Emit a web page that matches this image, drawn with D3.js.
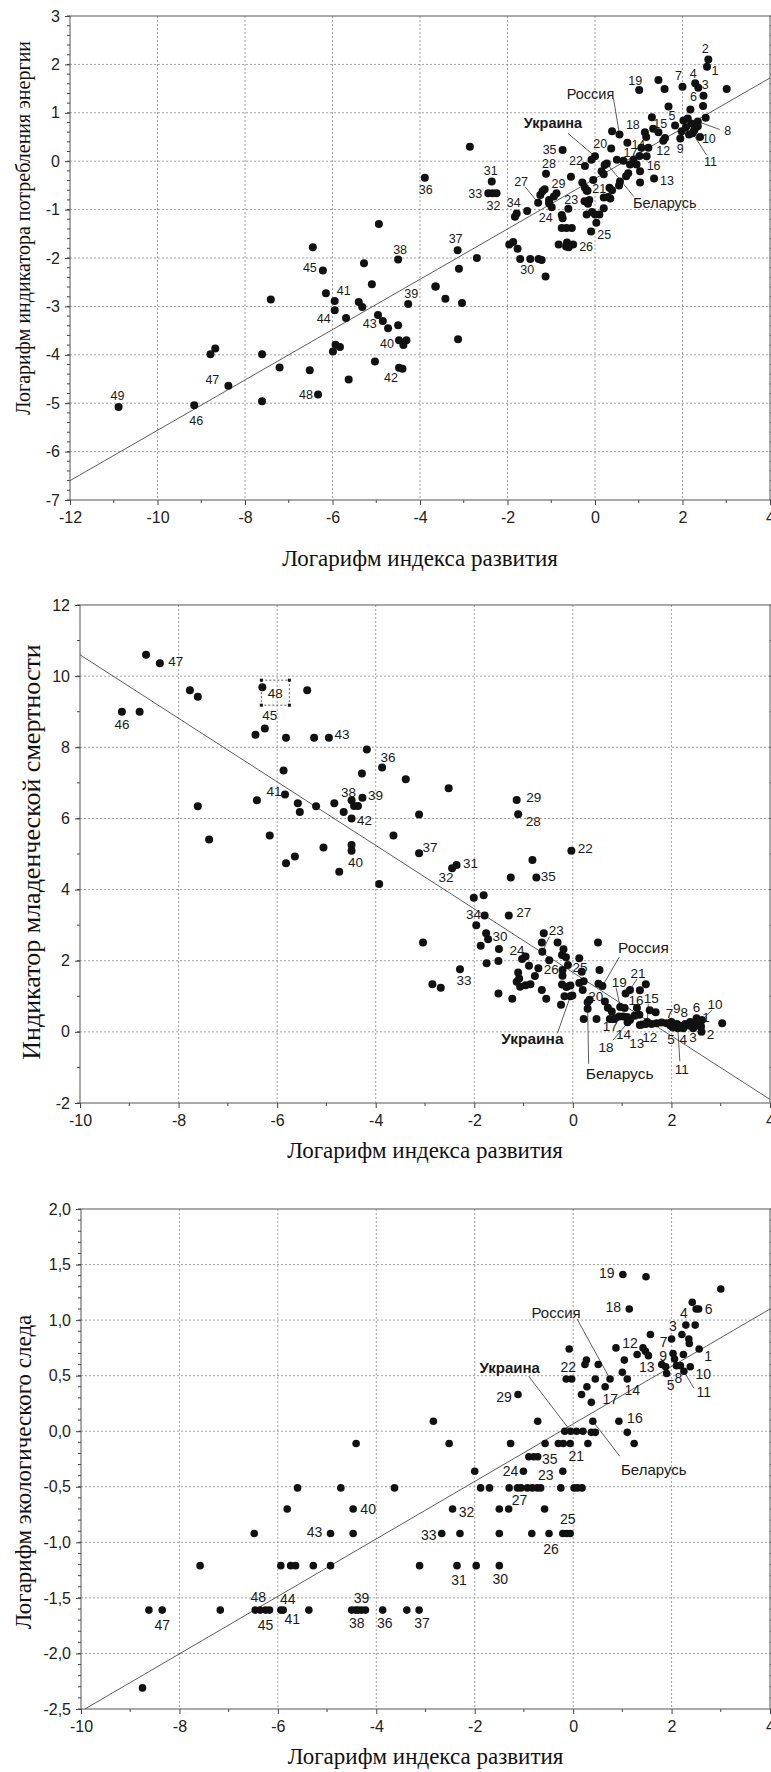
<!DOCTYPE html>
<html>
<head>
<meta charset="utf-8">
<script src="https://cdn.jsdelivr.net/npm/d3@7"></script>
<style>
  body { margin: 0; background: #fff; }
</style>
</head>
<body>
<script>
const svgWidth = 771;
const svgHeight = 1772;

const sans = "'Liberation Sans', Arial, sans-serif";
const serif = "'Liberation Serif', 'Times New Roman', serif";
const xTitle = 'Логарифм индекса развития';

// ---------- panel 1: energy consumption ----------
const energyXTicks = [-12, -10, -8, -6, -4, -2, 0, 2, 4];
const energyYTicks = [-7, -6, -5, -4, -3, -2, -1, 0, 1, 2, 3];
const energyFit = [[-12, -6.6], [4, 1.72]];
const energyPoints = [
  [2.56, 1.95, '1'], [2.59, 2.10, '2'], [2.36, 1.52, '3'], [2.29, 1.61, '4'], [1.83, 0.74, '5'],
  [2.48, 1.35, '6'], [2.00, 1.54, '7'], [2.35, 0.82, '8'], [1.95, 0.47, '9'], [2.26, 0.63, '10'],
  [2.23, 0.58, '11'], [1.56, 0.42, '12'], [1.35, -0.36, '13'], [1.22, 0.28, '14'], [1.33, 0.67, '15'],
  [1.18, 0.10, '16'], [0.88, 0.03, '17'], [1.14, 0.60, '18'], [1.01, 1.47, '19'], [0.37, 0.26, '20'],
  [-0.04, -0.39, '21'], [-0.23, -0.10, '22'], [-0.61, -0.98, '23'], [-0.99, -0.95, '24'], [0.03, -1.27, '25'],
  [-0.50, -1.72, '26'], [-1.30, -0.86, '27'], [-1.12, -0.26, '28'], [-0.88, -0.66, '29'], [-1.71, -2.02, '30'],
  [-2.36, -0.42, '31'], [-2.25, -0.66, '32'], [-2.44, -0.66, '33'], [-1.79, -1.08, '34'], [-0.74, 0.23, '35'],
  [-3.89, -0.34, '36'], [-3.14, -1.84, '37'], [-4.50, -2.03, '38'], [-4.27, -2.95, '39'], [-4.48, -3.70, '40'],
  [-5.95, -2.89, '41'], [-4.48, -4.27, '42'], [-4.85, -3.30, '43'], [-5.95, -3.08, '44'], [-6.22, -2.26, '45'],
  [-9.16, -5.04, '46'], [-8.38, -4.64, '47'], [-6.33, -4.82, '48'], [-10.89, -5.08, '49'],
  [0.56, 0.55, 'Россия'], [0.00, 0.10, 'Украина'], [0.27, -0.05, 'Беларусь'],
  [3.01, 1.49, ''], [1.45, 1.68, ''], [1.59, 1.49, ''], [1.68, 1.13, ''], [2.47, 1.14, ''], [2.18, 1.07, ''],
  [2.02, 0.84, ''], [2.12, 0.88, ''], [2.20, 0.78, ''], [2.08, 0.70, ''], [2.35, 0.72, ''], [2.53, 0.90, ''],
  [2.15, 0.55, ''], [2.40, 0.50, ''], [1.98, 0.62, ''], [2.28, 0.66, ''], [1.30, 0.91, ''], [1.17, 0.50, ''],
  [1.45, 0.60, ''], [1.60, 0.48, ''], [1.06, 0.28, ''], [0.74, 0.38, ''], [0.39, 0.62, ''], [1.02, 0.11, ''],
  [0.95, -0.07, ''], [1.03, -0.21, ''], [0.80, -0.07, ''], [0.71, -0.31, ''], [1.03, -0.44, ''], [0.65, 0.01, ''],
  [0.50, 0.03, ''], [0.76, -0.25, ''], [0.55, -0.50, ''], [0.57, -0.42, ''], [0.22, -0.08, ''], [0.15, -0.21, ''],
  [-0.08, 0.03, ''], [-0.55, -0.32, ''], [-0.29, -0.44, ''], [0.20, -0.27, ''], [-0.23, -0.55, ''], [-0.17, -0.61, ''],
  [0.33, -0.55, ''], [0.39, -0.60, ''], [0.35, -0.77, ''], [-0.07, -1.05, ''], [0.10, -1.10, ''], [-2.86, 0.30, ''],
  [-2.34, -0.66, ''], [-0.94, -0.73, ''], [-0.19, -0.61, ''], [-1.20, -0.62, ''], [-1.25, -0.70, ''], [-1.15, -0.58, ''],
  [-1.05, -0.80, ''], [-1.05, -0.87, ''], [-1.83, -1.15, ''], [-1.55, -1.03, ''], [-0.74, -1.18, ''], [-0.76, -1.11, ''],
  [-0.24, -0.83, ''], [-0.13, -0.80, ''], [-0.16, -0.88, ''], [-0.19, -1.10, ''], [0.00, -1.10, ''], [0.20, -0.75, ''],
  [0.30, -0.74, ''], [0.20, -0.97, ''], [-0.76, -1.38, ''], [-0.65, -1.38, ''], [-0.53, -1.38, ''], [-0.09, -1.45, ''],
  [-0.83, -1.72, ''], [-0.64, -1.68, ''], [-0.60, -1.78, ''], [-0.66, -1.76, ''], [-1.96, -1.72, ''], [-1.87, -1.67, ''],
  [-1.77, -1.81, ''], [-1.48, -2.02, ''], [-1.29, -2.02, ''], [-1.22, -2.04, ''], [-1.13, -2.38, ''], [-3.11, -2.22, ''],
  [-2.70, -2.00, ''], [-3.64, -2.59, ''], [-4.94, -1.30, ''], [-6.45, -1.78, ''], [-5.28, -2.11, ''], [-5.10, -2.54, ''],
  [-3.65, -2.59, ''], [-7.41, -2.86, ''], [-6.15, -2.73, ''], [-3.42, -2.84, ''], [-3.04, -2.93, ''], [-5.40, -2.91, ''],
  [-5.32, -3.01, ''], [-4.96, -3.18, ''], [-5.69, -3.24, ''], [-4.73, -3.45, ''], [-4.50, -3.39, ''], [-3.13, -3.68, ''],
  [-4.31, -3.70, ''], [-4.38, -3.80, ''], [-5.93, -3.79, ''], [-5.83, -3.84, ''], [-5.99, -3.93, ''], [-7.61, -3.99, ''],
  [-8.79, -3.99, ''], [-8.68, -3.87, ''], [-5.03, -4.14, ''], [-7.21, -4.26, ''], [-4.40, -4.29, ''], [-6.52, -4.32, ''],
  [-5.63, -4.51, ''], [-7.61, -4.96, '']
];

// ---------- panel 2: infant mortality ----------
const mortalityXTicks = [-10, -8, -6, -4, -2, 0, 2, 4];
const mortalityYTicks = [-2, 0, 2, 4, 6, 8, 10, 12];
const mortalityFit = [[-10, 10.6], [4, -1.9]];
const mortalityPoints = [
  [-9.15, 9.00, '46'], [-8.38, 10.36, '47'], [-6.30, 9.69, '48'], [-6.25, 8.53, '45'], [-4.95, 8.27, '43'],
  [-3.87, 7.43, '36'], [-5.84, 6.67, '41'], [-4.49, 6.51, '38'], [-4.27, 6.58, '39'], [-4.49, 6.00, '42'],
  [-4.49, 5.09, '40'], [-1.14, 6.52, '29'], [-1.11, 6.12, '28'], [-0.03, 5.09, '22'], [-3.12, 5.02, '37'],
  [-2.36, 4.69, '31'], [-2.45, 4.60, '32'], [-0.74, 4.34, '35'], [-1.79, 3.27, '34'], [-1.30, 3.27, '27'],
  [-1.72, 2.60, '30'], [-2.29, 1.76, '33'], [-0.62, 2.25, '23'], [-1.03, 2.05, '24'], [-0.70, 1.79, '26'],
  [-0.10, 1.88, '25'], [0.30, 0.83, '20'], [1.16, 1.18, '21'], [0.96, 0.70, '19'], [1.16, 0.33, '18'],
  [0.94, 0.43, '17'], [1.30, 0.67, '16'], [1.51, 0.28, '15'], [1.11, 0.27, '14'], [1.36, 0.19, '13'],
  [1.60, 0.22, '12'], [2.13, 0.10, '11'], [2.62, 0.33, '10'], [2.11, 0.22, '9'], [2.28, 0.22, '8'],
  [1.90, 0.24, '7'], [2.51, 0.38, '6'], [2.03, 0.12, '5'], [2.24, 0.10, '4'], [2.44, 0.10, '3'],
  [2.61, 0.00, '2'], [2.54, 0.29, '1'],
  [0.60, 1.29, 'Россия'], [-0.05, 1.00, 'Украина'], [0.30, 0.65, 'Беларусь'],
  [-8.66, 10.6, ''], [-7.77, 9.60, ''], [-7.61, 9.42, ''], [-8.79, 9.00, ''], [-5.39, 9.60, ''], [-6.44, 8.35, ''],
  [-5.82, 8.27, ''], [-5.25, 8.27, ''], [-4.18, 7.94, ''], [-5.87, 7.35, ''], [-4.28, 7.26, ''], [-6.41, 6.51, ''],
  [-7.61, 6.34, ''], [-5.58, 6.43, ''], [-5.54, 6.18, ''], [-5.21, 6.34, ''], [-4.84, 6.43, ''], [-4.65, 6.18, ''],
  [-4.44, 6.35, ''], [-4.36, 6.35, ''], [-3.64, 5.52, ''], [-6.15, 5.52, ''], [-7.38, 5.41, ''], [-5.06, 5.18, ''],
  [-4.49, 5.25, ''], [-5.64, 4.93, ''], [-5.82, 4.74, ''], [-4.74, 4.50, ''], [-3.93, 4.16, ''],
  [-3.39, 7.10, ''], [-2.52, 6.85, ''], [-3.12, 6.11, ''], [-0.82, 4.83, ''], [-1.26, 4.34, ''], [-2.01, 3.77, ''],
  [-1.81, 3.84, ''], [-1.96, 3.00, ''], [-3.04, 2.51, ''], [-1.76, 2.77, ''], [-1.87, 2.42, ''], [-1.50, 2.33, ''],
  [-1.51, 1.99, ''], [-1.75, 1.93, ''], [-2.85, 1.34, ''], [-2.68, 1.24, ''], [-1.51, 1.08, ''], [-1.23, 0.93, ''],
  [-0.59, 2.77, ''], [-0.63, 2.51, ''], [-0.31, 2.51, ''], [-0.22, 2.16, ''], [-0.19, 2.32, ''], [-0.96, 2.12, ''],
  [-0.89, 1.86, ''], [-0.77, 1.57, ''], [-1.11, 1.67, ''], [-1.09, 1.50, ''], [-1.14, 1.41, ''], [-1.07, 1.27, ''],
  [-0.96, 1.31, ''], [-0.86, 1.34, ''], [-0.48, 2.01, ''], [-0.63, 1.18, ''], [-0.54, 0.93, ''], [-0.24, 0.76, ''],
  [-0.21, 1.74, ''], [-0.21, 1.58, ''], [-0.22, 1.33, ''], [-0.14, 2.10, ''], [-0.17, 1.00, ''], [-0.01, 1.02, ''],
  [-0.13, 1.26, ''], [-0.05, 1.30, ''], [0.13, 2.07, ''], [0.18, 1.69, ''], [0.13, 1.37, ''], [0.22, 1.42, ''],
  [0.20, 1.18, ''], [0.51, 2.51, ''], [0.54, 1.74, ''], [0.52, 1.35, ''], [0.22, 0.36, ''], [0.48, 0.36, ''],
  [0.34, 0.90, ''], [0.65, 0.85, ''], [0.71, 0.68, ''], [0.79, 0.57, ''], [0.75, 0.36, ''], [0.86, 0.38, ''],
  [1.05, 0.67, ''], [1.07, 1.08, ''], [1.48, 1.34, ''], [1.36, 1.17, ''], [1.02, 0.43, ''], [1.10, 0.42, ''],
  [1.25, 0.45, ''], [1.35, 0.48, ''], [1.68, 0.55, ''], [1.56, 0.61, ''], [1.40, 0.21, ''], [1.48, 0.22, ''],
  [1.70, 0.24, ''], [1.80, 0.26, ''], [1.98, 0.18, ''], [2.17, 0.17, ''], [2.35, 0.18, ''], [2.45, 0.20, ''],
  [2.55, 0.17, ''], [2.38, 0.28, ''], [2.00, 0.28, ''], [2.60, 0.15, ''], [3.03, 0.24, '']
];

// ---------- panel 3: ecological footprint ----------
const footprintXTicks = [-10, -8, -6, -4, -2, 0, 2, 4];
const footprintYTicks = [-2.5, -2, -1.5, -1, -0.5, 0, 0.5, 1, 1.5, 2];
const footprintFit = [[-9.92, -2.5], [4, 1.1]];
const footprintPoints = [
  [1.01, 1.41, '19'], [1.14, 1.10, '18'], [2.55, 1.10, '6'], [2.29, 0.955, '4'], [2.21, 0.87, '3'],
  [2.00, 0.83, '7'], [1.42, 0.75, '12'], [2.03, 0.70, '9'], [2.56, 0.74, '1'], [1.80, 0.60, '13'],
  [2.38, 0.58, '10'], [1.90, 0.52, '5'], [2.10, 0.59, '8'], [2.25, 0.54, '11'], [1.10, 0.47, '14'],
  [0.37, 0.26, '17'], [0.93, 0.09, '16'], [-0.14, 0.47, '22'], [-1.12, 0.33, '29'], [-0.72, -0.23, '35'],
  [-0.06, -0.11, '21'], [-1.01, -0.36, '24'], [-0.21, -0.36, '23'], [-1.13, -0.51, '27'], [-2.45, -0.70, '32'],
  [-2.67, -0.92, '33'], [-0.13, -0.92, '25'], [-0.49, -0.92, '26'], [-2.36, -1.21, '31'], [-1.50, -1.21, '30'],
  [-3.13, -1.61, '37'], [-3.87, -1.61, '36'], [-4.50, -1.61, '38'], [-4.30, -1.61, '39'], [-4.47, -0.70, '40'],
  [-4.93, -0.92, '43'], [-5.94, -1.61, '44'], [-5.89, -1.61, '41'], [-6.46, -1.61, '48'], [-6.25, -1.61, '45'],
  [-8.35, -1.61, '47'],
  [0.75, 0.47, 'Россия'], [-0.05, 0.00, 'Украина'], [0.40, 0.09, 'Беларусь'],
  [-8.75, -2.31, ''], [-8.62, -1.61, ''], [-7.58, -1.21, ''], [-7.17, -1.61, ''], [-6.36, -1.61, ''], [-6.17, -1.61, ''],
  [-6.48, -0.92, ''], [-5.94, -1.21, ''], [-5.74, -1.21, ''], [-5.64, -1.21, ''], [-5.81, -0.70, ''], [-5.60, -0.51, ''],
  [-5.37, -1.61, ''], [-5.28, -1.21, ''], [-4.93, -1.21, ''], [-4.72, -0.51, ''], [-4.47, -0.92, ''], [-4.41, -0.11, ''],
  [-4.42, -1.61, ''], [-4.37, -1.61, ''], [-4.22, -1.61, ''], [-3.63, -0.51, ''], [-3.38, -1.61, ''], [-3.12, -1.21, ''],
  [-2.84, 0.09, ''], [-2.52, -0.11, ''], [-2.30, -0.92, ''], [-2.00, -0.36, ''], [-1.97, -1.21, ''], [-1.88, -0.51, ''],
  [-1.70, -0.51, ''], [-1.50, -0.70, ''], [-1.31, -0.70, ''], [-1.50, -0.92, ''], [-1.27, -0.11, ''], [-1.30, -0.51, ''],
  [-1.06, -0.51, ''], [-0.93, -0.51, ''], [-0.83, -0.51, ''], [-0.73, -0.51, ''], [-0.66, -0.51, ''], [-0.25, -0.51, ''],
  [0.02, -0.51, ''], [0.09, -0.51, ''], [0.18, -0.51, ''], [-0.58, -0.70, ''], [-0.84, -0.92, ''], [-0.21, -0.92, ''],
  [-0.06, -0.92, ''], [-0.90, -0.23, ''], [-0.80, -0.23, ''], [-0.72, 0.09, ''], [-0.57, -0.11, ''], [-0.30, -0.11, ''],
  [-0.20, -0.11, ''], [0.30, -0.11, ''], [0.07, 0.00, ''], [0.20, 0.00, ''], [-0.17, 0.00, ''], [0.45, -0.01, ''],
  [0.37, -0.01, ''], [1.10, -0.01, ''], [1.24, -0.11, ''], [0.17, 0.33, ''], [0.28, 0.40, ''], [0.65, 0.40, ''],
  [0.45, 0.47, ''], [-0.03, 0.47, ''], [0.27, 0.64, ''], [0.24, 0.60, ''], [0.51, 0.60, ''], [-0.08, 0.74, ''],
  [0.87, 0.75, ''], [1.47, 0.72, ''], [1.30, 0.69, ''], [1.53, 0.68, ''], [1.04, 0.64, ''], [1.00, 0.53, ''],
  [1.57, 0.87, ''], [1.48, 1.39, ''], [3.00, 1.28, ''], [2.42, 1.16, ''], [2.50, 1.10, ''], [2.48, 0.955, ''],
  [2.35, 0.83, ''], [2.36, 0.79, ''], [2.06, 0.65, ''], [2.24, 0.69, ''], [1.88, 0.58, ''], [2.18, 0.59, '']
];

// label placement in px relative to the dot: [dx, dy] or [dx, dy, leaderX, leaderY]
const energyLabelPos = {
  '1': [8, 4], '2': [-3, -11], '3': [7, -3], '4': [-2, -10], '5': [-3, -10], '6': [-10, 1], '7': [-4, -11],
  '8': [30, 9, 22, 8], '9': [0, 10], '10': [15, 8], '11': [18, 28, 14, 22], '12': [0, 10], '13': [13, 2],
  '14': [-10, -3], '15': [7, -5], '16': [7, 9], '17': [-3, -7], '18': [-12, -8], '19': [-4, -9], '20': [-11, -5],
  '21': [6, 9], '22': [-9, -5], '23': [3, -9], '24': [-6, 10], '25': [8, 12], '26': [13, 2], '27': [-17, -21, -13, -16],
  '28': [3, -10], '29': [2, -10], '30': [7, 11], '31': [-1, -11], '32': [-3, 12], '33': [-13, 0], '34': [-3, -11],
  '35': [-13, 0], '36': [1, 12], '37': [-2, -12], '38': [2, -10], '39': [3, -10], '40': [-12, 3], '41': [9, -10],
  '42': [-8, 10], '43': [-13, 3], '44': [-11, 8], '45': [-13, -3], '46': [2, 15], '47': [-16, -6], '48': [-12, 0],
  '49': [-1, -11], 'Россия': [-29, -41, -6, -36], 'Украина': [-42, -33, -27, -23], 'Беларусь': [58, 39, 27, 33]
};
const mortalityLabelPos = {
  '46': [0, 13], '47': [16, -2], '48': [13, 6], '45': [5, -13], '43': [13, -3], '36': [6, -10], '41': [-11, -3],
  '38': [-3, -8], '39': [13, -3], '42': [13, 2], '40': [4, 11], '29': [17, -3], '28': [15, 7], '22': [14, -3],
  '37': [11, -6], '31': [14, -2], '32': [-6, 9], '35': [12, -1], '27': [15, -3], '34': [-11, -1], '30': [12, -3],
  '33': [4, 11], '23': [14, -22, 7, -15], '24': [-5, -9], '26': [13, 1], '25': [12, 2], '20': [8, -6],
  '1': [8, -4], '2': [9, 2], '3': [0, 9], '4': [0, 11], '5': [-2, 12], '6': [0, -11], '7': [3, -10], '8': [-1, -12],
  '9': [0, -16], '10': [13, -16, 10, -10], '11': [4, 41, 2, 33], '12': [-2, 13], '13': [-3, 18], '14': [-4, 12],
  '15': [4, -24, 1, -18], '16': [-1, -8], '17': [-9, 10], '18': [-24, 27, -17, 20], '19': [-1, -25, -4, -19],
  '21': [8, -17, 7, -11], 'Россия': [41, -38, 17, -29], 'Украина': [-38, 42, -13, 37], 'Беларусь': [32, 65, 1, 55]
};
const footprintLabelPos = {
  '19': [-16, -1], '18': [-16, -2], '6': [10, 0], '4': [-2, -12], '3': [-9, -8], '7': [-8, 3], '12': [-13, -5],
  '9': [-10, 3], '1': [9, 7], '13': [-15, 3], '10': [13, 7], '5': [4, 12], '8': [2, 12], '11': [20, 21, 10, 17],
  '14': [5, 11], '17': [19, -3], '16': [16, -3], '22': [2, -12], '29': [-14, 3], '35': [12, 2], '21': [6, 13],
  '24': [-13, 0], '23': [-17, 4], '27': [2, 12], '32': [14, 3], '33': [-13, 2], '25': [1, -14], '26': [2, 16],
  '31': [2, 14], '30': [1, 13], '37': [3, 13], '36': [2, 13], '38': [5, 13], '39': [0, -12], '44': [7, -11],
  '41': [9, 9], '48': [3, -13], '45': [0, 15], '43': [-16, -1], '40': [15, 0], '47': [0, 15],
  'Россия': [-54, -66, -33, -60], 'Украина': [-61, -63, -42, -55], 'Беларусь': [61, 49, 27, 35]
};

const svg = d3.select('body')
              .append('svg')
              .attr('width', svgWidth)
              .attr('height', svgHeight);

const panels = [
  { points: energyPoints, labelPos: energyLabelPos, xTicks: energyXTicks, yTicks: energyYTicks, fit: energyFit,
    left: 70, right: 770, top: 16, bottom: 500, yMinor: 0.2, fmt: d => String(d),
    yTitle: 'Логарифм индикатора потребления энергии', yTitleSize: 20, yTitleX: 23, yTitleY: 228,
    xTitleY: 566, numSize: 12.5, nameSize: 14.5, r: 4 },
  { points: mortalityPoints, labelPos: mortalityLabelPos, xTicks: mortalityXTicks, yTicks: mortalityYTicks, fit: mortalityFit,
    left: 80, right: 770, top: 605, bottom: 1103, yMinor: 1, fmt: d => String(d),
    yTitle: 'Индикатор младенческой смертности', yTitleSize: 26, yTitleX: 31, yTitleY: 852,
    xTitleY: 1158, numSize: 13.5, nameSize: 15.5, r: 4, box: '48' },
  { points: footprintPoints, labelPos: footprintLabelPos, xTicks: footprintXTicks, yTicks: footprintYTicks, fit: footprintFit,
    left: 81, right: 770, top: 1209, bottom: 1709, yMinor: 0.1, fmt: d => d.toFixed(1).replace('.', ','),
    yTitle: 'Логарифм экологического следа', yTitleSize: 23, yTitleX: 23, yTitleY: 1472,
    xTitleY: 1764, numSize: 14, nameSize: 15, r: 3.8 }
];

function drawPanel(p) {
  const x = d3.scaleLinear().domain(d3.extent(p.xTicks)).range([p.left, p.right]);
  const y = d3.scaleLinear().domain(d3.extent(p.yTicks)).range([p.bottom, p.top]);
  const g = svg.append('g');

  // dashed grid
  g.selectAll('line.gx')
   .data(p.xTicks.slice(1, -1))
   .enter().append('line')
   .attr('x1', d => x(d)).attr('x2', d => x(d))
   .attr('y1', p.top).attr('y2', p.bottom)
   .attr('stroke', '#8a8a8a').attr('stroke-width', 0.8).attr('stroke-dasharray', '2,2');
  g.selectAll('line.gy')
   .data(p.yTicks.slice(1, -1))
   .enter().append('line')
   .attr('y1', d => y(d)).attr('y2', d => y(d))
   .attr('x1', p.left).attr('x2', p.right)
   .attr('stroke', '#8a8a8a').attr('stroke-width', 0.8).attr('stroke-dasharray', '2,2');

  // minor ticks
  const [y0, y1] = y.domain();
  const yMinor = d3.range(0, Math.round((y1 - y0) / p.yMinor) + 1).map(i => y0 + i * p.yMinor);
  g.selectAll('line.my')
   .data(yMinor)
   .enter().append('line')
   .attr('x1', p.left - 3).attr('x2', p.left)
   .attr('y1', d => y(d)).attr('y2', d => y(d))
   .attr('stroke', '#444');
  g.selectAll('line.myr')
   .data(yMinor)
   .enter().append('line')
   .attr('x1', p.right).attr('x2', p.right + 4)
   .attr('y1', d => y(d)).attr('y2', d => y(d))
   .attr('stroke', '#444');
  const xMinor = p.xTicks.slice(0, -1).map(d => d + 1);
  g.selectAll('line.mx')
   .data(xMinor)
   .enter().append('line')
   .attr('x1', d => x(d)).attr('x2', d => x(d))
   .attr('y1', p.bottom).attr('y2', p.bottom + 3)
   .attr('stroke', '#444');

  // axes
  g.append('g')
   .attr('transform', `translate(${p.left},0)`)
   .call(d3.axisLeft(y).tickValues(p.yTicks).tickFormat(p.fmt).tickSize(5).tickPadding(5))
   .call(a => a.select('.domain').remove())
   .call(a => a.selectAll('line').attr('stroke', '#444'))
   .selectAll('text')
   .attr('font-family', sans).attr('font-size', 16).attr('fill', '#222');
  g.append('g')
   .attr('transform', `translate(0,${p.bottom})`)
   .call(d3.axisBottom(x).tickValues(p.xTicks).tickFormat(d => String(d)).tickSize(5).tickPadding(7))
   .call(a => a.select('.domain').remove())
   .call(a => a.selectAll('line').attr('stroke', '#444'))
   .selectAll('text')
   .attr('font-family', sans).attr('font-size', 16).attr('fill', '#222');

  g.append('rect')
   .attr('x', p.left).attr('y', p.top)
   .attr('width', p.right - p.left).attr('height', p.bottom - p.top)
   .attr('fill', 'none').attr('stroke', '#555').attr('stroke-width', 1);

  // regression line
  g.append('line')
   .attr('x1', x(p.fit[0][0])).attr('y1', y(p.fit[0][1]))
   .attr('x2', x(p.fit[1][0])).attr('y2', y(p.fit[1][1]))
   .attr('stroke', '#333').attr('stroke-width', 0.8);

  // leader lines
  const labelled = p.points.filter(d => d[2] !== '' && p.labelPos[d[2]]);
  g.selectAll('line.leader')
   .data(labelled.filter(d => p.labelPos[d[2]].length === 4))
   .enter().append('line')
   .attr('x1', d => x(d[0]) + p.labelPos[d[2]][2])
   .attr('y1', d => y(d[1]) + p.labelPos[d[2]][3])
   .attr('x2', d => x(d[0])).attr('y2', d => y(d[1]))
   .attr('stroke', '#333').attr('stroke-width', 0.8);

  // dots
  g.selectAll('circle')
   .data(p.points)
   .enter().append('circle')
   .attr('cx', d => x(d[0]))
   .attr('cy', d => y(d[1]))
   .attr('r', p.r)
   .attr('fill', '#111');

  // labels
  g.selectAll('text.lbl')
   .data(labelled)
   .enter().append('text')
   .attr('class', 'lbl')
   .attr('x', d => x(d[0]) + p.labelPos[d[2]][0])
   .attr('y', d => y(d[1]) + p.labelPos[d[2]][1])
   .attr('dy', '0.35em')
   .attr('text-anchor', 'middle')
   .attr('font-family', sans)
   .attr('font-size', d => /\d/.test(d[2]) ? p.numSize : p.nameSize)
   .attr('font-weight', d => d[2] === 'Украина' ? 'bold' : 'normal')
   .attr('fill', '#1a1a1a')
   .text(d => d[2]);

  // selection box around one label
  if (p.box) {
    const b = p.points.find(d => d[2] === p.box);
    const bx = x(b[0]) - 1, by = y(b[1]) - 7, bw = 28, bh = 25;
    g.append('rect')
     .attr('x', bx).attr('y', by).attr('width', bw).attr('height', bh)
     .attr('fill', 'none').attr('stroke', '#333').attr('stroke-width', 0.8).attr('stroke-dasharray', '2,2');
    const handles = [[0, 0], [bw, 0], [0, bh], [bw, bh]];
    g.selectAll('rect.h')
     .data(handles)
     .enter().append('rect')
     .attr('x', d => bx + d[0] - 1.5).attr('y', d => by + d[1] - 1.5)
     .attr('width', 3).attr('height', 3).attr('fill', '#111');
  }

  // titles
  g.append('text')
   .attr('transform', `translate(${p.yTitleX},${p.yTitleY}) rotate(-90)`)
   .attr('text-anchor', 'middle').attr('dy', '0.35em')
   .attr('font-family', serif).attr('font-size', p.yTitleSize).attr('fill', '#111')
   .text(p.yTitle);
  g.append('text')
   .attr('x', (p.left + p.right) / 2).attr('y', p.xTitleY)
   .attr('text-anchor', 'middle')
   .attr('font-family', serif).attr('font-size', 23).attr('fill', '#111')
   .text(xTitle);
}

panels.forEach(drawPanel);
</script>
</body>
</html>
